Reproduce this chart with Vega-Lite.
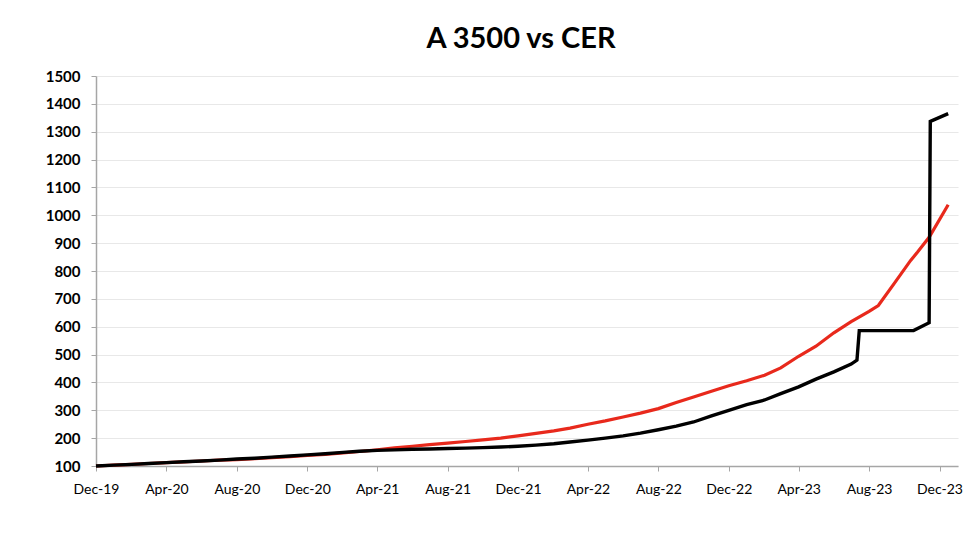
{
  "$schema": "https://vega.github.io/schema/vega-lite/v6.json",
  "autosize": "none",
  "width": 862,
  "height": 390,
  "padding": {"left": 96, "top": 76, "right": 22, "bottom": 67},
  "background": "white",
  "config": {"view": {"stroke": null}},
  "title": {"text": "A 3500 vs CER", "font": "Lato", "fontSize": 29, "fontWeight": "bold", "color": "#000000", "anchor": "middle", "offset": 15, "dx": -6},
  "data": {"values": [
    {"date": "2019/12/01", "serie": "CER", "value": 100},
    {"date": "2020/01/01", "serie": "CER", "value": 103},
    {"date": "2020/02/01", "serie": "CER", "value": 106},
    {"date": "2020/03/01", "serie": "CER", "value": 109},
    {"date": "2020/04/01", "serie": "CER", "value": 112},
    {"date": "2020/05/01", "serie": "CER", "value": 115},
    {"date": "2020/06/01", "serie": "CER", "value": 118},
    {"date": "2020/07/01", "serie": "CER", "value": 121},
    {"date": "2020/08/01", "serie": "CER", "value": 123},
    {"date": "2020/09/01", "serie": "CER", "value": 126},
    {"date": "2020/10/01", "serie": "CER", "value": 130},
    {"date": "2020/11/01", "serie": "CER", "value": 134},
    {"date": "2020/12/01", "serie": "CER", "value": 138},
    {"date": "2021/01/01", "serie": "CER", "value": 142},
    {"date": "2021/02/01", "serie": "CER", "value": 147},
    {"date": "2021/03/01", "serie": "CER", "value": 152},
    {"date": "2021/04/01", "serie": "CER", "value": 158},
    {"date": "2021/05/01", "serie": "CER", "value": 165},
    {"date": "2021/06/01", "serie": "CER", "value": 171},
    {"date": "2021/07/01", "serie": "CER", "value": 177},
    {"date": "2021/08/01", "serie": "CER", "value": 182},
    {"date": "2021/09/01", "serie": "CER", "value": 188},
    {"date": "2021/10/01", "serie": "CER", "value": 194},
    {"date": "2021/11/01", "serie": "CER", "value": 200},
    {"date": "2021/12/01", "serie": "CER", "value": 208},
    {"date": "2022/01/01", "serie": "CER", "value": 217},
    {"date": "2022/02/01", "serie": "CER", "value": 226},
    {"date": "2022/03/01", "serie": "CER", "value": 236},
    {"date": "2022/04/01", "serie": "CER", "value": 250},
    {"date": "2022/05/01", "serie": "CER", "value": 262},
    {"date": "2022/06/01", "serie": "CER", "value": 276},
    {"date": "2022/07/01", "serie": "CER", "value": 290},
    {"date": "2022/08/01", "serie": "CER", "value": 306},
    {"date": "2022/09/01", "serie": "CER", "value": 328},
    {"date": "2022/10/01", "serie": "CER", "value": 348},
    {"date": "2022/11/01", "serie": "CER", "value": 368},
    {"date": "2022/12/01", "serie": "CER", "value": 388},
    {"date": "2023/01/01", "serie": "CER", "value": 406},
    {"date": "2023/02/01", "serie": "CER", "value": 426},
    {"date": "2023/03/01", "serie": "CER", "value": 452},
    {"date": "2023/04/01", "serie": "CER", "value": 494},
    {"date": "2023/05/01", "serie": "CER", "value": 530},
    {"date": "2023/06/01", "serie": "CER", "value": 578},
    {"date": "2023/07/01", "serie": "CER", "value": 618},
    {"date": "2023/08/01", "serie": "CER", "value": 655},
    {"date": "2023/08/17", "serie": "CER", "value": 676},
    {"date": "2023/09/13", "serie": "CER", "value": 754},
    {"date": "2023/10/12", "serie": "CER", "value": 838},
    {"date": "2023/10/24", "serie": "CER", "value": 868},
    {"date": "2023/11/13", "serie": "CER", "value": 921},
    {"date": "2023/12/16", "serie": "CER", "value": 1038},
    {"date": "2019/12/01", "serie": "A3500", "value": 100},
    {"date": "2020/01/01", "serie": "A3500", "value": 103},
    {"date": "2020/02/01", "serie": "A3500", "value": 106},
    {"date": "2020/03/01", "serie": "A3500", "value": 109},
    {"date": "2020/04/01", "serie": "A3500", "value": 112},
    {"date": "2020/05/01", "serie": "A3500", "value": 115},
    {"date": "2020/06/01", "serie": "A3500", "value": 118},
    {"date": "2020/07/01", "serie": "A3500", "value": 121},
    {"date": "2020/08/01", "serie": "A3500", "value": 125},
    {"date": "2020/09/01", "serie": "A3500", "value": 128},
    {"date": "2020/10/01", "serie": "A3500", "value": 132},
    {"date": "2020/11/01", "serie": "A3500", "value": 136},
    {"date": "2020/12/01", "serie": "A3500", "value": 140},
    {"date": "2021/01/01", "serie": "A3500", "value": 144},
    {"date": "2021/02/01", "serie": "A3500", "value": 149},
    {"date": "2021/03/01", "serie": "A3500", "value": 153},
    {"date": "2021/04/01", "serie": "A3500", "value": 156},
    {"date": "2021/05/01", "serie": "A3500", "value": 158},
    {"date": "2021/06/01", "serie": "A3500", "value": 160},
    {"date": "2021/07/01", "serie": "A3500", "value": 161},
    {"date": "2021/08/01", "serie": "A3500", "value": 163},
    {"date": "2021/09/01", "serie": "A3500", "value": 164},
    {"date": "2021/10/01", "serie": "A3500", "value": 166},
    {"date": "2021/11/01", "serie": "A3500", "value": 168},
    {"date": "2021/12/01", "serie": "A3500", "value": 171},
    {"date": "2022/01/01", "serie": "A3500", "value": 175},
    {"date": "2022/02/01", "serie": "A3500", "value": 180},
    {"date": "2022/03/01", "serie": "A3500", "value": 186},
    {"date": "2022/04/01", "serie": "A3500", "value": 193},
    {"date": "2022/05/01", "serie": "A3500", "value": 200},
    {"date": "2022/06/01", "serie": "A3500", "value": 208},
    {"date": "2022/07/01", "serie": "A3500", "value": 218},
    {"date": "2022/08/01", "serie": "A3500", "value": 230},
    {"date": "2022/09/01", "serie": "A3500", "value": 243},
    {"date": "2022/10/01", "serie": "A3500", "value": 258},
    {"date": "2022/11/01", "serie": "A3500", "value": 280},
    {"date": "2022/12/01", "serie": "A3500", "value": 300},
    {"date": "2023/01/01", "serie": "A3500", "value": 320},
    {"date": "2023/02/01", "serie": "A3500", "value": 337},
    {"date": "2023/03/01", "serie": "A3500", "value": 360},
    {"date": "2023/04/01", "serie": "A3500", "value": 384},
    {"date": "2023/05/01", "serie": "A3500", "value": 412},
    {"date": "2023/06/01", "serie": "A3500", "value": 438},
    {"date": "2023/07/01", "serie": "A3500", "value": 466},
    {"date": "2023/07/11", "serie": "A3500", "value": 480},
    {"date": "2023/07/15", "serie": "A3500", "value": 586},
    {"date": "2023/10/17", "serie": "A3500", "value": 586},
    {"date": "2023/11/13", "serie": "A3500", "value": 614},
    {"date": "2023/11/15", "serie": "A3500", "value": 1337},
    {"date": "2023/12/16", "serie": "A3500", "value": 1365}
  ]},
  "encoding": {
    "x": {
      "field": "date", "type": "temporal",
      "scale": {"domain": [{"year": 2019, "month": 12, "date": 1}, {"year": 2024, "month": 1, "date": 2}], "nice": false},
      "axis": {
        "title": null,
        "values": [
          {"year": 2019, "month": 12, "date": 1}, {"year": 2020, "month": 4, "date": 1}, {"year": 2020, "month": 8, "date": 1},
          {"year": 2020, "month": 12, "date": 1}, {"year": 2021, "month": 4, "date": 1}, {"year": 2021, "month": 8, "date": 1},
          {"year": 2021, "month": 12, "date": 1}, {"year": 2022, "month": 4, "date": 1}, {"year": 2022, "month": 8, "date": 1},
          {"year": 2022, "month": 12, "date": 1}, {"year": 2023, "month": 4, "date": 1}, {"year": 2023, "month": 8, "date": 1},
          {"year": 2023, "month": 12, "date": 1}
        ],
        "format": "%b-%y",
        "grid": false,
        "labelFont": "Lato", "labelFontSize": 14, "labelColor": "#000000",
        "labelPadding": 11, "labelOverlap": false, "labelFlush": false,
        "tickSize": 5, "tickColor": "#a6a6a6", "domainColor": "#a6a6a6", "domainWidth": 1.5
      }
    },
    "y": {
      "field": "value", "type": "quantitative",
      "scale": {"domain": [100, 1500], "nice": false, "zero": false},
      "axis": {
        "title": null,
        "format": "d",
        "values": [100, 200, 300, 400, 500, 600, 700, 800, 900, 1000, 1100, 1200, 1300, 1400, 1500],
        "labelFont": "Lato", "labelFontSize": 15, "labelFontWeight": "bold", "labelColor": "#000000",
        "labelPadding": 11,
        "tickSize": 5, "tickColor": "#a6a6a6", "domainColor": "#a6a6a6", "domainWidth": 1.5,
        "grid": true, "gridColor": "#e8e8e8", "gridWidth": 1.2
      }
    }
  },
  "layer": [
    {
      "transform": [{"filter": "datum.serie === 'CER'"}],
      "mark": {"type": "line", "color": "#E8291C", "strokeWidth": 3.2}
    },
    {
      "transform": [{"filter": "datum.serie === 'A3500'"}],
      "mark": {"type": "line", "color": "#000000", "strokeWidth": 3.4}
    }
  ]
}
